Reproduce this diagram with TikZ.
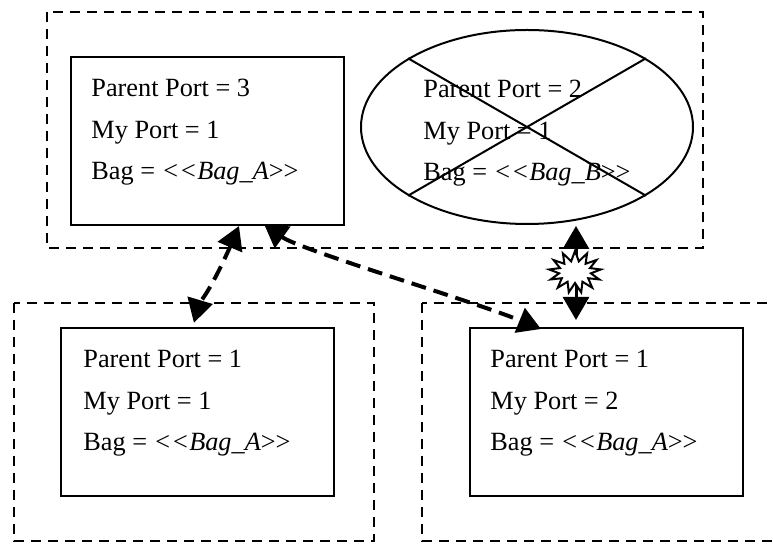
\documentclass[tikz,border=0pt]{standalone}
\usepackage{fontspec}
\setmainfont{Liberation Serif}
\usetikzlibrary{arrows.meta,shapes.geometric,shapes.symbols}

\tikzset{
	frame/.style={line width=1.2pt, dash pattern=on 5pt off 3.5pt},
	portbox/.style={draw, rectangle, line width=1pt, minimum width=136.5pt, minimum height=84pt, inner sep=0pt},
	info/.style={align=left, anchor=base west, inner sep=0pt, font=\fontsize{13.15}{20.75}\selectfont},
	link/.style={line width=2pt, dash pattern=on 7.5pt off 4pt, {Triangle[length=11.5pt, width=13pt]}-{Triangle[length=11.5pt, width=13pt]}},
}
\newcommand{\bagname}[1]{\textit{<\kern0pt<#1}>\kern0pt>}

\begin{document}
\begin{tikzpicture}[x=0.5pt, y=-0.5pt]
		
		\useasboundingbox (0,0) rectangle (773,544);
		\clip (0,0) rectangle (773,544);
		
		% Dashed groups
		\draw[frame] (47,12) rectangle (703,248);
		\draw[frame] (14,303) rectangle (374,541);
		\draw[frame] (422,303) rectangle (790,541);
		
		% Ports
		\node[portbox] (P3) at (207.5,141) {};
		\node[draw, ellipse, line width=1pt, minimum width=166pt, minimum height=97pt, inner sep=0pt] (E) at (527,127) {};
		\node[portbox] (L) at (197.5,412.5) {};
		\node[portbox] (R) at (606,412.5) {};
		
		% Cross over the ellipse
		\draw[line width=1pt] (E.150) -- (E.330);
		\draw[line width=1pt] (E.30) -- (E.210);
		
		% Labels (anchored at the baseline of the last line)
		\node[info] (tP3) at (91,180) {Parent Port = 3\\My Port = 1\\Bag = \bagname{Bag\_A}};
		\node[info] (tE) at (423,181) {Parent Port = 2\\My Port = 1\\Bag = \bagname{Bag\_B}};
		\node[info] (tL) at (83,451) {Parent Port = 1\\My Port = 1\\Bag = \bagname{Bag\_A}};
		\node[info] (tR) at (490,451) {Parent Port = 1\\My Port = 2\\Bag = \bagname{Bag\_A}};
		
		% Arrow ends
		\coordinate (a1) at (239,226);
		\coordinate (b1) at (213,304);
		\coordinate (a2) at (264,224);
		\coordinate (b2) at (541,329);
		\coordinate (a3) at (576,226);
		\coordinate (b3) at (576,320);
		
		% Links
		\draw[link] (a1) .. controls (233,240) and (205,306) .. (b1);
		\draw[link] (a2) .. controls (300,250) and (470,300) .. (b2);
		\draw[line width=1.5pt, {Triangle[length=11.5pt, width=13pt]}-{Triangle[length=11.5pt, width=13pt]}] (a3) -- (b3);
		\node[draw, fill=white, line width=1pt, starburst, starburst points=13, starburst point height=5pt, random starburst=0, minimum width=26pt, minimum height=21pt, inner sep=0pt] (X) at (575,272) {};
		
	\end{tikzpicture}
\end{document}
